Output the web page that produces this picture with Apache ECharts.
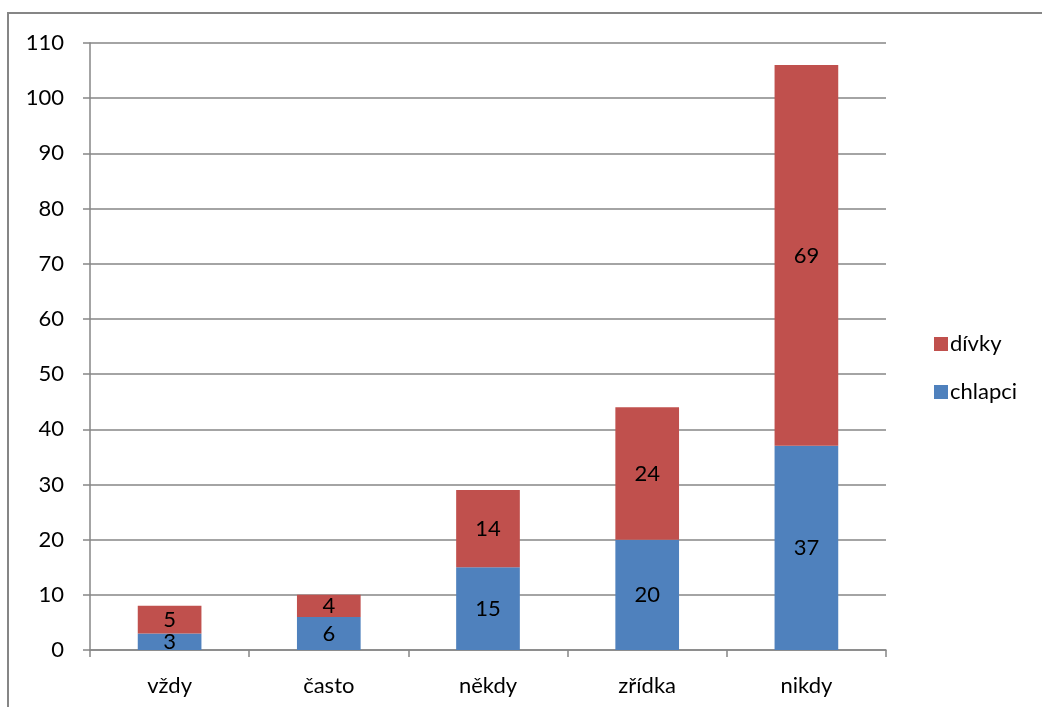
<!DOCTYPE html>
<html><head><meta charset="utf-8">
<script src="https://cdn.jsdelivr.net/npm/echarts@6/dist/echarts.min.js"></script>
<style>html,body{margin:0;padding:0;background:#fff}#c{width:1042px;height:707px}</style>
</head><body><div id="c"></div>
<script>
const categories = ['vždy', 'často', 'někdy', 'zřídka', 'nikdy'];
const chlapci = [3, 6, 15, 20, 37];
const divky = [5, 4, 14, 24, 69];
const yTicks = { min: 0, max: 110, interval: 10 };

const FONT = 'Lato';
const FS = 22;
const chart = echarts.init(document.getElementById('c'), null, { renderer: 'canvas' });
const lbl = { show: true, position: 'inside', color: '#000', fontFamily: FONT, fontSize: FS };
chart.setOption({
  animation: false,
  graphic: [{ type: 'rect', shape: { x: 8, y: 13, width: 1200, height: 900 }, style: { fill: 'none', stroke: '#868686', lineWidth: 2 }, silent: true }],
  grid: { left: 90, right: 156, top: 43, bottom: 57 },
  legend: {
    orient: 'vertical', left: 929, top: 328, itemGap: 26, itemWidth: 14, itemHeight: 14,
    icon: 'rect', data: ['dívky', 'chlapci'],
    textStyle: { fontFamily: FONT, fontSize: FS, color: '#000', padding: [0, 0, 0, -3] }
  },
  xAxis: {
    type: 'category', data: categories,
    axisLine: { lineStyle: { color: '#868686', width: 1.5 } },
    axisTick: { show: true, length: 7, lineStyle: { color: '#868686', width: 1.5 } },
    axisLabel: { fontFamily: FONT, fontSize: FS, color: '#000', margin: 25 }
  },
  yAxis: {
    type: 'value', min: yTicks.min, max: yTicks.max, interval: yTicks.interval,
    axisLine: { show: true, lineStyle: { color: '#868686', width: 1.5 } },
    axisTick: { show: true, length: 7, lineStyle: { color: '#868686', width: 1.5 } },
    splitLine: { lineStyle: { color: '#868686', width: 1.5 } },
    axisLabel: { fontFamily: FONT, fontSize: FS, color: '#000', margin: 26 }
  },
  series: [
    { name: 'chlapci', type: 'bar', stack: 's', data: chlapci, barWidth: '40%', itemStyle: { color: '#4F81BD' }, label: lbl },
    { name: 'dívky', type: 'bar', stack: 's', data: divky, barWidth: '40%', itemStyle: { color: '#C0504D' }, label: lbl }
  ]
});
</script></body></html>
